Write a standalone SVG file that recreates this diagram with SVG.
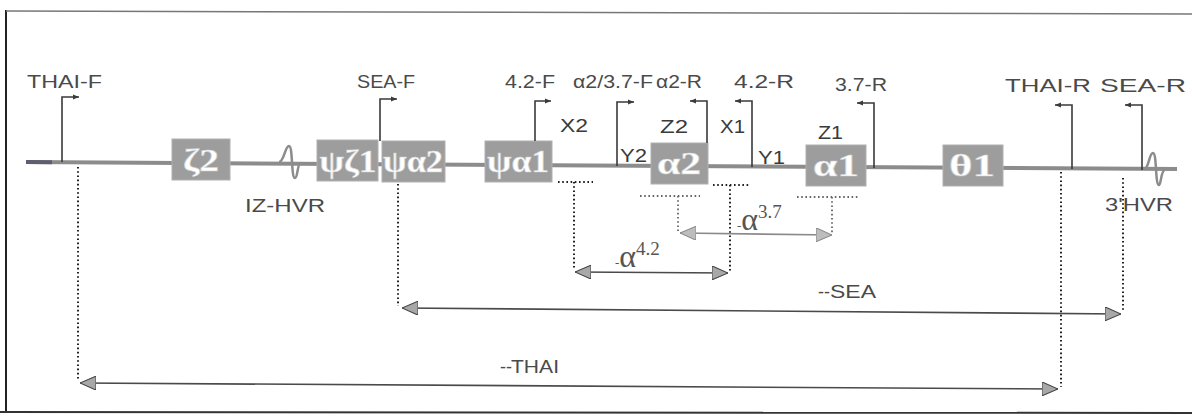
<svg xmlns="http://www.w3.org/2000/svg" width="1192" height="417" viewBox="0 0 1192 417">
<style>
.lbl{font-family:"Liberation Sans",Arial,sans-serif;font-size:18px;fill:#4a4a4a}
.reg{font-family:"Liberation Sans",Arial,sans-serif;font-size:19px;fill:#3a3a3a}
.gene{font-family:"Liberation Serif","Times New Roman",serif;font-size:32px;font-weight:bold;fill:#ffffff;stroke:#cfcfcf;stroke-width:0.6;text-anchor:middle}
.box{fill:#9d9d9d;stroke:#b0b0b0;stroke-width:1}
.primer{fill:none;stroke:#3a3a3a;stroke-width:1.6}
.dot{fill:none;stroke:#222;stroke-width:2;stroke-dasharray:1.6 2.6}
.dotl{fill:none;stroke:#666;stroke-width:1.8;stroke-dasharray:1.6 2.6}
.dim{fill:none;stroke:#4a4a4a;stroke-width:1.6}
.diml{fill:none;stroke:#8a8a8a;stroke-width:1.6}
.greek{font-family:"Liberation Serif","Times New Roman",serif;fill:#555}
</style>
<defs>
<marker id="ah" viewBox="0 0 16 14" refX="16" refY="7" markerWidth="16" markerHeight="14" markerUnits="userSpaceOnUse" orient="auto-start-reverse">
<path d="M0,0 L16,7 L0,14 Z" fill="#a8a8a8" stroke="#444" stroke-width="1"/>
</marker>
<marker id="ahl" viewBox="0 0 16 14" refX="16" refY="7" markerWidth="16" markerHeight="14" markerUnits="userSpaceOnUse" orient="auto-start-reverse">
<path d="M0,0 L16,7 L0,14 Z" fill="#bdbdbd" stroke="#888" stroke-width="1"/>
</marker>
<marker id="pa" viewBox="0 0 6 6" refX="6" refY="3" markerWidth="6" markerHeight="6" markerUnits="userSpaceOnUse" orient="auto">
<path d="M0,0.5 L6,3 L0,5.5 Z" fill="#3a3a3a"/>
</marker>
</defs>

<g id="frame">
<line x1="6" y1="10" x2="6" y2="413" stroke="#222" stroke-width="2"/>
<line x1="6" y1="11" x2="1192" y2="14" stroke="#777" stroke-width="1.5"/>
<line x1="0" y1="412" x2="1192" y2="413" stroke="#333" stroke-width="2"/>
</g>

<g id="chromosome">
<line x1="26" y1="162" x2="1177" y2="169" stroke="#8c8c8c" stroke-width="4"/>
<line x1="26" y1="162" x2="52" y2="162.2" stroke="#5e5e70" stroke-width="4"/>
</g>

<g id="iz-hvr">
<path d="M279,162 C284,162 285,146 289,146 C293,146 291,178 295,178 C298,178 297,163 301,163" fill="none" stroke="#8c8c8c" stroke-width="2.5"/>
<text class="lbl" x="245" y="212" font-size="20" textLength="80" lengthAdjust="spacingAndGlyphs">IZ-HVR</text>
</g>
<g id="hvr3">
<path d="M1144,169 C1149,169 1149,153 1153,153 C1157,153 1155,185 1159,185 C1161,185 1161,170 1165,170" fill="none" stroke="#8c8c8c" stroke-width="2.5"/>
<text class="lbl" x="1105" y="211" font-size="20" textLength="68" lengthAdjust="spacingAndGlyphs">3'HVR</text>
</g>

<g id="zeta2"><rect class="box" x="172" y="139" width="58" height="41"/><text class="gene" x="201" y="171" textLength="36" lengthAdjust="spacingAndGlyphs">ζ2</text></g>
<g id="psizeta1"><rect class="box" x="317" y="140" width="61" height="41"/><text class="gene" x="348" y="172" textLength="57" lengthAdjust="spacingAndGlyphs">ψζ1</text></g>
<g id="psialpha2"><rect class="box" x="382" y="141" width="63" height="41"/><text class="gene" x="413" y="172" textLength="60" lengthAdjust="spacingAndGlyphs">ψα2</text></g>
<g id="psialpha1"><rect class="box" x="485" y="141" width="67" height="41"/><text class="gene" x="518" y="172" textLength="62" lengthAdjust="spacingAndGlyphs">ψα1</text></g>
<g id="alpha2"><rect class="box" x="651" y="143" width="57" height="41"/><text class="gene" x="679" y="174" textLength="44" lengthAdjust="spacingAndGlyphs">α2</text></g>
<g id="alpha1"><rect class="box" x="806" y="145" width="60" height="41"/><text class="gene" x="836" y="176" textLength="46" lengthAdjust="spacingAndGlyphs">α1</text></g>
<g id="theta1"><rect class="box" x="943" y="145" width="60" height="41"/><text class="gene" x="972" y="176" textLength="46" lengthAdjust="spacingAndGlyphs">θ1</text></g>

<g id="primers">
<g id="THAI-F"><path class="primer" d="M62,162 V97 H79" marker-end="url(#pa)"/><text class="lbl" x="27" y="88" textLength="75" lengthAdjust="spacingAndGlyphs">THAI-F</text></g>
<g id="SEA-F"><path class="primer" d="M380,141 V99 H397" marker-end="url(#pa)"/><text class="lbl" x="357" y="88" textLength="58" lengthAdjust="spacingAndGlyphs">SEA-F</text></g>
<g id="F42"><path class="primer" d="M535,141 V101 H551" marker-end="url(#pa)"/><text class="lbl" x="505" y="88" textLength="50" lengthAdjust="spacingAndGlyphs">4.2-F</text></g>
<g id="F37"><path class="primer" d="M617,166 V102 H634" marker-end="url(#pa)"/><text class="lbl" x="573" y="88" textLength="80" lengthAdjust="spacingAndGlyphs">α2/3.7-F</text></g>
<g id="a2R"><path class="primer" d="M707,143 V101 H690" marker-end="url(#pa)"/><text class="lbl" x="656" y="88" textLength="46" lengthAdjust="spacingAndGlyphs">α2-R</text></g>
<g id="R42"><path class="primer" d="M752,167 V101 H735" marker-end="url(#pa)"/><text class="lbl" x="734" y="88" textLength="60" lengthAdjust="spacingAndGlyphs">4.2-R</text></g>
<g id="R37"><path class="primer" d="M874,168 V103 H857" marker-end="url(#pa)"/><text class="lbl" x="835" y="91" textLength="52" lengthAdjust="spacingAndGlyphs">3.7-R</text></g>
<g id="THAI-R"><path class="primer" d="M1072,169 V105 H1055" marker-end="url(#pa)"/><text class="lbl" x="1005" y="92" textLength="86" lengthAdjust="spacingAndGlyphs">THAI-R</text></g>
<g id="SEA-R"><path class="primer" d="M1142,170 V105 H1125" marker-end="url(#pa)"/><text class="lbl" x="1100" y="92" textLength="86" lengthAdjust="spacingAndGlyphs">SEA-R</text></g>
</g>

<g id="regions">
<text class="reg" x="560" y="132" textLength="28" lengthAdjust="spacingAndGlyphs">X2</text>
<text class="reg" x="660" y="133" textLength="28" lengthAdjust="spacingAndGlyphs">Z2</text>
<text class="reg" x="720" y="133" textLength="25" lengthAdjust="spacingAndGlyphs">X1</text>
<text class="reg" x="620" y="162" textLength="27" lengthAdjust="spacingAndGlyphs">Y2</text>
<text class="reg" x="758" y="164" textLength="27" lengthAdjust="spacingAndGlyphs">Y1</text>
<text class="reg" x="818" y="139" textLength="25" lengthAdjust="spacingAndGlyphs">Z1</text>
</g>

<g id="connectors">
<path class="dot" d="M558,182 H593 M574,182 V270"/>
<path class="dot" d="M713,185 H750 M730,185 V271"/>
<line class="dim" x1="575" y1="272" x2="728" y2="273" marker-start="url(#ah)" marker-end="url(#ah)"/>
<path class="dotl" d="M640,196 H700 M678,196 V231"/>
<path class="dotl" d="M797,197 H860 M832,197 V233"/>
<line class="diml" x1="680" y1="233" x2="832" y2="235" marker-start="url(#ahl)" marker-end="url(#ahl)"/>
<path class="dot" d="M398,184 V306"/>
<path class="dot" d="M1123,178 V311"/>
<line class="dim" x1="402" y1="308" x2="1121" y2="314" marker-start="url(#ah)" marker-end="url(#ah)"/>
<path class="dot" d="M78,167 V381"/>
<path class="dot" d="M1061,172 V387"/>
<line class="dim" x1="80" y1="383" x2="1058" y2="389" marker-start="url(#ah)" marker-end="url(#ah)"/>
</g>

<g id="deletion-labels">
<text class="greek" x="615" y="267"><tspan font-size="13">-</tspan><tspan font-size="32">α</tspan><tspan font-size="19" dy="-12">4.2</tspan></text>
<text class="greek" x="737" y="230" fill="#777"><tspan font-size="13">-</tspan><tspan font-size="32">α</tspan><tspan font-size="19" dy="-12">3.7</tspan></text>
<text class="lbl" x="818" y="298" font-size="9">--</text>
<text class="lbl" x="830" y="298" font-size="19" textLength="46" lengthAdjust="spacingAndGlyphs">SEA</text>
<text class="lbl" x="500" y="373" font-size="9">--</text>
<text class="lbl" x="511" y="373" font-size="18" textLength="48" lengthAdjust="spacingAndGlyphs">THAI</text>
</g>
</svg>
